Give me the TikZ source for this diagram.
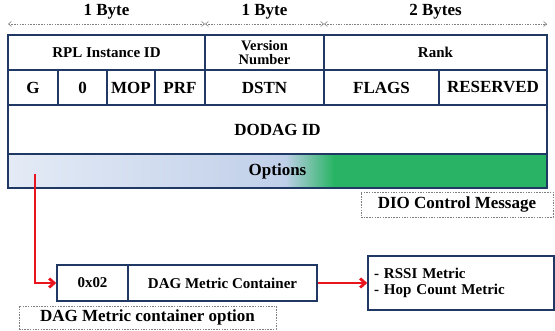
\documentclass[tikz,border=0pt]{standalone}
\usepackage{fontspec}
\setmainfont{Liberation Serif}
\usetikzlibrary{arrows.meta,positioning}

\definecolor{navy}{RGB}{31,56,100}
\definecolor{optblue}{RGB}{228,235,246}
\definecolor{optmid}{RGB}{192,207,233}
\definecolor{optgreen}{RGB}{40,180,100}
\definecolor{linkred}{RGB}{232,20,30}

\tikzset{
  cell/.style={draw=navy, line width=1.6pt, rectangle, inner sep=0pt, font=\bfseries\fontsize{17}{18}\selectfont},
  capbox/.style={draw=gray, dash pattern=on 1.5pt off 1.2pt, line width=0.6pt, inner sep=0pt, font=\bfseries\fontsize{17}{18}\selectfont},
  bytes/.style={draw=gray, dash pattern=on 1.5pt off 1.2pt, line width=0.6pt, {Straight Barb[length=3pt,width=5pt]}-{Straight Barb[length=3pt,width=5pt]}},
  link/.style={draw=linkred, line width=2.8pt, -{Straight Barb[length=5pt,width=9pt]}}
}

\begin{document}
\begin{tikzpicture}[x=1pt,y=-1pt]
\useasboundingbox (0,0) rectangle (555,331);

% byte widths
\coordinate (b0) at (8,24);
\coordinate (b1) at (205,24);
\coordinate (b2) at (324,24);
\coordinate (b3) at (547,24);
\path
(106.5,12) node[font=\bfseries\fontsize{17}{18}\selectfont] (by1) {1 Byte}
(264.5,12) node[font=\bfseries\fontsize{17}{18}\selectfont] (by2) {1 Byte}
(435.5,12) node[font=\bfseries\fontsize{17}{18}\selectfont] (by3) {2 Bytes};
\draw[bytes] (b0)--(b1);
\draw[bytes] (b1)--(b2);
\draw[bytes] (b2)--(b3);

% options gradient
\shade[left color=optblue, right color=optmid] (8,154) rectangle (285,188);
\shade[left color=optmid, right color=optgreen] (285,154) rectangle (334,188);
\fill[optgreen] (334,154) rectangle (547,188);

\path
(106.5,52.5) node[cell, minimum width=197, minimum height=35, font=\bfseries\fontsize{15}{16}\selectfont] (rpl) {RPL Instance ID}
(264.5,52.5) node[cell, minimum width=119, minimum height=35, align=center, font=\bfseries\fontsize{14.5}{14}\selectfont] (ver) {Version\\Number}
(435.5,52.5) node[cell, minimum width=223, minimum height=35, font=\bfseries\fontsize{15}{16}\selectfont] (rank) {Rank}

(33,87.5)    node[cell, minimum width=50, minimum height=35] (g) {G}
(82.5,87.5)  node[cell, minimum width=49, minimum height=35] (zero) {0}
(131,87.5)   node[cell, minimum width=48, minimum height=35] (mop) {MOP}
(180,87.5)   node[cell, minimum width=50, minimum height=35] (prf) {PRF}
(264.5,87.5) node[cell, minimum width=119, minimum height=35] (dstn) {DSTN}
(381.5,87.5) node[cell, minimum width=115, minimum height=35] (flags) {FLAGS}
(493,87.5)   node[cell, minimum width=108, minimum height=35] (res) {RESERVED}

(277.5,129.5) node[cell, minimum width=539, minimum height=49] (dodag) {DODAG ID}
(277.5,171)   node[cell, minimum width=539, minimum height=34] (opt) {Options}

(457,204.5) node[capbox, minimum width=192, minimum height=25] (dio) {DIO Control Message}

(92.5,283)  node[cell, minimum width=71, minimum height=36, font=\bfseries\fontsize{15}{16}\selectfont] (hex) {0x02}
(222.5,283) node[cell, minimum width=189, minimum height=36, font=\bfseries\fontsize{15}{16}\selectfont] (dag) {DAG Metric Container}
(461,283)   node[cell, minimum width=186, minimum height=54, text width=174, align=left, font=\bfseries\fontsize{15}{16}\selectfont] (metric) {- RSSI Metric\\- Hop Count Metric}

(147.5,317.5) node[capbox, minimum width=257, minimum height=23] (dagopt) {DAG Metric container option};

\coordinate (tap) at (35,174);
\draw[link] (tap) |- (hex.west);
\draw[link] (dag.east) -- (metric.west);
\end{tikzpicture}
\end{document}
